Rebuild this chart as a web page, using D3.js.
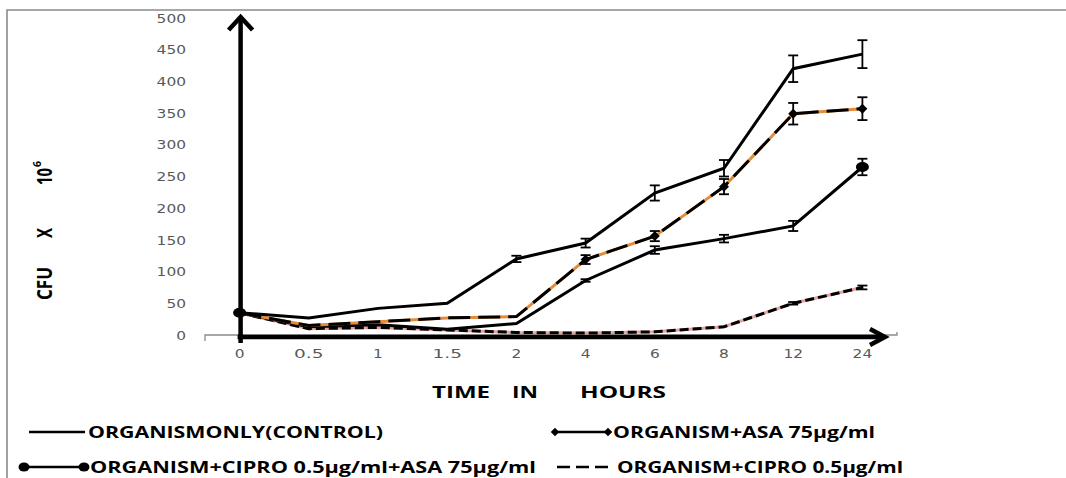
<!DOCTYPE html>
<html><head><meta charset="utf-8">
<script src="https://cdn.jsdelivr.net/npm/d3@7"></script>
<style>
html,body{margin:0;padding:0;background:#fff;}
svg{display:block;}
</style></head>
<body>
<svg id="chart" width="1066" height="478"></svg>
<script>
// ---- data ----
const categories = ["0","0.5","1","1.5","2","4","6","8","12","24"];
const yTicks = [0,50,100,150,200,250,300,350,400,450,500];
const control     = [35,27,42,50,120,145,224,263,420,443];
const controlErr  = [0,0,0,0,5,7,12,13,21,22];
const asa         = [35,15,21,27,29,119,156,234,349,357];
const asaErr      = [0,0,0,0,0,7,8,12,17,18];
const combo       = [35,13,16,9,18,86,134,152,172,265];
const comboErr    = [0,0,0,0,0,2,6,6,8,13];
const cipro       = [35,10,12,8,4,3,5,13,50,75];
const ciproErr    = [0,0,0,0,0,0,0,0,2,3];
const legendLabels = ["ORGANISMONLY(CONTROL)","ORGANISM+ASA 75µg/ml","ORGANISM+CIPRO 0.5µg/ml+ASA 75µg/ml","ORGANISM+CIPRO 0.5µg/ml"];

const svg = d3.select("#chart");
const x = d3.scalePoint().domain(categories).range([205, 897]).padding(0.5);
const y = d3.scaleLinear().domain([0, 500]).range([335, 18]);

// frame
svg.append("path").attr("d","M7,478 L7,10 L1066,10").attr("fill","none").attr("stroke","#8a8a8a").attr("stroke-width",1.6);

// y axis labels
const yAxis = svg.append("g").attr("transform","translate(190,0)")
  .call(d3.axisLeft(y).tickValues(yTicks).tickSize(0).tickPadding(4));
yAxis.select(".domain").remove();
yAxis.selectAll("text").attr("font-family","DejaVu Sans").attr("font-size",13).attr("fill","#595959")
  .each(function(){ const t=d3.select(this); t.attr("textLength", t.text().length*9.8).attr("lengthAdjust","spacingAndGlyphs"); });

// x axis (gray baseline)
const xAxisG = svg.append("g").attr("transform","translate(0,335)");
xAxisG.append("path").attr("d","M205,6 L205,0 L897,0 L897,-3").attr("fill","none").attr("stroke","#8a8a8a").attr("stroke-width",1.3);
xAxisG.selectAll("text.xt").data(categories).join("text").attr("class","xt")
  .attr("x", d=>x(d)).attr("y", 23).attr("text-anchor","middle")
  .attr("font-family","DejaVu Sans").attr("font-size",13).attr("fill","#595959")
  .attr("textLength", d=>d.length*9.8).attr("lengthAdjust","spacingAndGlyphs")
  .text(d=>d);

// thick arrows
const arr = svg.append("g").attr("stroke","#000").attr("fill","none").attr("stroke-width",4.5).attr("stroke-linecap","butt");
arr.append("line").attr("x1",x("0")+1).attr("y1",343).attr("x2",x("0")+1).attr("y2",18);
arr.append("path").attr("d",`M${x("0")-11},30 L${x("0")+1},17 L${x("0")+13},30`).attr("stroke-linejoin","miter");
arr.append("line").attr("x1",x("0")-2).attr("y1",337).attr("x2",884).attr("y2",337);
arr.append("path").attr("d","M870,329 L885,337 L870,345").attr("stroke-linejoin","miter");

const line = d3.line().x((d,i)=>x(categories[i])).y(d=>y(d));

// series lines
const g = svg.append("g");
g.append("path").datum(cipro).attr("d",line).attr("fill","none").attr("stroke","#e6a3a0").attr("stroke-width",3);
g.append("path").datum(cipro).attr("d",line).attr("fill","none").attr("stroke","#000").attr("stroke-width",3).attr("stroke-dasharray","9,4");
g.append("path").datum(combo).attr("d",line).attr("fill","none").attr("stroke","#000").attr("stroke-width",3);
g.append("path").datum(asa).attr("d",line).attr("fill","none").attr("stroke","#e58c3a").attr("stroke-width",3);
g.append("path").datum(asa).attr("d",line).attr("fill","none").attr("stroke","#000").attr("stroke-width",3).attr("stroke-dasharray","22,8");
g.append("path").datum(control).attr("d",line).attr("fill","none").attr("stroke","#000").attr("stroke-width",3);

// error bars
function errBars(vals, errs){
  const eg = svg.append("g").attr("stroke","#000").attr("stroke-width",1.8);
  vals.forEach((v,i)=>{
    const e = errs[i]; if(!e) return;
    const cx = x(categories[i]);
    eg.append("line").attr("x1",cx).attr("x2",cx).attr("y1",y(v-e)).attr("y2",y(v+e));
    eg.append("line").attr("x1",cx-5).attr("x2",cx+5).attr("y1",y(v-e)).attr("y2",y(v-e));
    eg.append("line").attr("x1",cx-5).attr("x2",cx+5).attr("y1",y(v+e)).attr("y2",y(v+e));
  });
}
errBars(control, controlErr);
errBars(asa, asaErr);
errBars(combo, comboErr);
errBars(cipro, ciproErr);

// markers
const asaMarkIdx = [5,6,7,8,9];
svg.append("g").selectAll("path").data(asaMarkIdx).join("path")
  .attr("d", d3.symbol().type(d3.symbolSquare).size(50))
  .attr("transform", i=>`translate(${x(categories[i])},${y(asa[i])}) rotate(45)`).attr("fill","#000");
const comboMarkIdx = [0,9];
svg.append("g").selectAll("ellipse").data(comboMarkIdx).join("ellipse")
  .attr("cx", i=>x(categories[i])).attr("cy", i=>y(combo[i])).attr("rx",6.5).attr("ry",5).attr("fill","#000");

// axis titles
const tt = svg.append("g").attr("font-family","Open Sans").attr("font-weight",700).attr("font-size",16).attr("fill","#000");
[["TIME",432,58],["IN",512,26],["HOURS",580,86]].forEach(([t,xx,w])=>{
  tt.append("text").attr("x",xx).attr("y",398).attr("textLength",w).attr("lengthAdjust","spacingAndGlyphs").text(t);
});
const yt = svg.append("g").attr("transform","translate(52,0) rotate(-90)")
  .attr("font-family","Open Sans").attr("font-weight",700).attr("font-size",21).attr("fill","#000");
yt.append("text").attr("x",-300).attr("y",0).attr("textLength",33).attr("lengthAdjust","spacingAndGlyphs").text("CFU");
yt.append("text").attr("x",-238).attr("y",0).attr("textLength",10).attr("lengthAdjust","spacingAndGlyphs").text("X");
yt.append("text").attr("x",-185).attr("y",0).attr("textLength",17).attr("lengthAdjust","spacingAndGlyphs").text("10");
yt.append("text").attr("x",-167).attr("y",-11).attr("font-size",11).attr("textLength",6).attr("lengthAdjust","spacingAndGlyphs").text("6");

// legend
const lg = svg.append("g").attr("font-family","Open Sans").attr("font-weight",700).attr("font-size",16).attr("fill","#000");
// row 1 left: control
lg.append("line").attr("x1",29).attr("x2",85).attr("y1",432).attr("y2",432).attr("stroke","#000").attr("stroke-width",2.5);
lg.append("text").attr("x",88).attr("y",438).attr("textLength",295).attr("lengthAdjust","spacingAndGlyphs").text(legendLabels[0]);
// row 1 right: asa
lg.append("line").attr("x1",555).attr("x2",607).attr("y1",432).attr("y2",432).attr("stroke","#000").attr("stroke-width",2.5);
[555,608].forEach(cx=>lg.append("path").attr("d",d3.symbol().type(d3.symbolSquare).size(36)).attr("transform",`translate(${cx},432) rotate(45)`).attr("fill","#000"));
lg.append("text").attr("x",613).attr("y",438).attr("textLength",262).attr("lengthAdjust","spacingAndGlyphs").text(legendLabels[1]);
// row 2 left: combo
lg.append("line").attr("x1",25).attr("x2",83).attr("y1",467).attr("y2",467).attr("stroke","#000").attr("stroke-width",2.5);
[24,84].forEach(cx=>lg.append("ellipse").attr("cx",cx).attr("cy",467).attr("rx",5.5).attr("ry",4.5).attr("fill","#000"));
lg.append("text").attr("x",90).attr("y",473).attr("textLength",446).attr("lengthAdjust","spacingAndGlyphs").text(legendLabels[2]);
// row 2 right: cipro
lg.append("line").attr("x1",533).attr("x2",533).attr("y1",462).attr("y2",472).attr("stroke","#000").attr("stroke-width",1.5);
lg.append("line").attr("x1",557).attr("x2",609).attr("y1",467).attr("y2",467).attr("stroke","#000").attr("stroke-width",2.5).attr("stroke-dasharray","13,6");
lg.append("text").attr("x",617).attr("y",473).attr("textLength",286).attr("lengthAdjust","spacingAndGlyphs").text(legendLabels[3]);
</script>
</body></html>
